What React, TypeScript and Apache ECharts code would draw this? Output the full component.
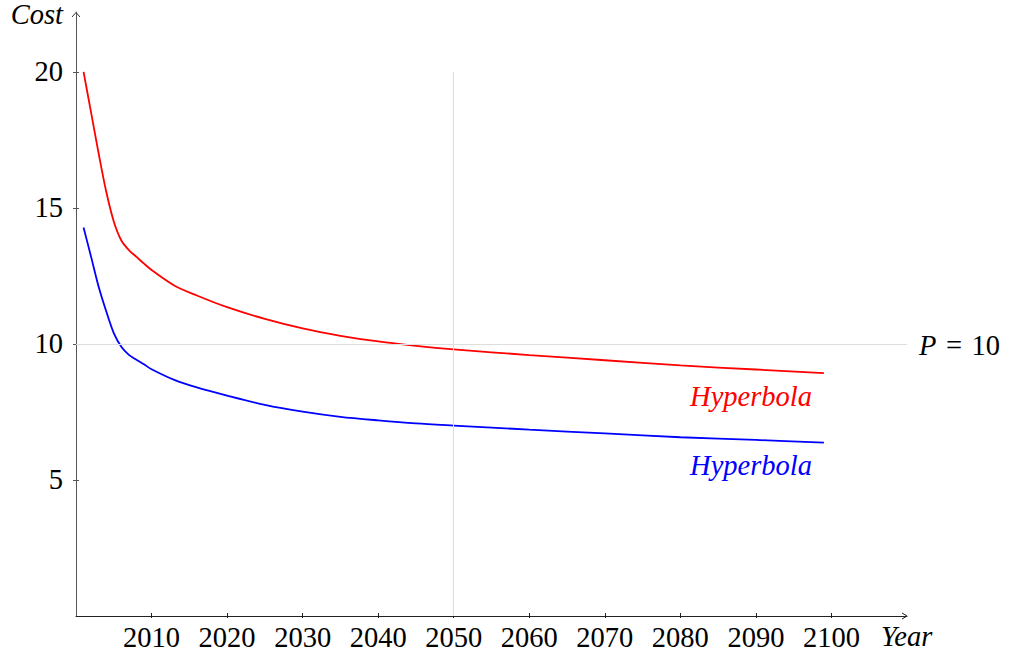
import React, { useEffect, useRef } from "react";
import * as echarts from "echarts";

const years = [2001, 2002, 2003, 2004, 2005, 2006, 2007, 2008, 2009, 2010, 2013, 2016, 2020, 2025, 2030, 2035, 2040, 2045, 2050, 2060, 2070, 2080, 2090, 2099];
const redCost = [20.0, 18.5, 17.0, 15.6, 14.5, 13.8, 13.45, 13.2, 12.95, 12.72, 12.15, 11.78, 11.35, 10.92, 10.57, 10.3, 10.09, 9.93, 9.8, 9.59, 9.4, 9.21, 9.06, 8.93];
const blueCost = [14.28, 13.2, 12.1, 11.2, 10.4, 9.9, 9.6, 9.42, 9.25, 9.07, 8.68, 8.4, 8.1, 7.76, 7.51, 7.32, 7.19, 7.08, 7.0, 6.85, 6.71, 6.57, 6.47, 6.37];
const xTicks = [2010, 2020, 2030, 2040, 2050, 2060, 2070, 2080, 2090, 2100];
const yTicks = [5, 10, 15, 20];
const priceLevel = 10;
const markYear = 2050;

const FONT = "Liberation Serif";
const FS = 28.5;

export default function App() {
  const ref = useRef<HTMLDivElement>(null);
  useEffect(() => {
    if (!ref.current) return;
    const chart = echarts.init(ref.current, null, { renderer: "svg" });
    const plain = (v: number) => String(v);
    const baseX = {
      type: "value",
      min: 2000,
      max: 2110,
      interval: 10,
      splitLine: { show: false },
    };
    const baseY = {
      type: "value",
      min: 0,
      max: 22.2,
      interval: 5,
      splitLine: { show: false },
    };
    chart.setOption({
      animation: false,
      textStyle: { fontFamily: FONT },
      grid: { left: 76, right: 106, top: 12, bottom: 41, containLabel: false },
      xAxis: [
        {
          ...baseX,
          axisLine: { show: true, onZero: false, lineStyle: { color: "#222", width: 1 } },
          axisTick: { show: true, inside: false, length: 2, customValues: xTicks, lineStyle: { color: "#222" } },
          axisLabel: { show: true, customValues: xTicks, formatter: plain, fontSize: FS, color: "#000", margin: 7, fontFamily: FONT },
        },
        {
          ...baseX,
          position: "bottom",
          axisLine: { show: false },
          axisTick: { show: true, inside: true, length: 3, customValues: xTicks, lineStyle: { color: "#222" } },
          axisLabel: { show: false },
        },
      ],
      yAxis: [
        {
          ...baseY,
          axisLine: { show: true, onZero: false, lineStyle: { color: "#555", width: 1 } },
          axisTick: { show: true, inside: false, length: 3, customValues: yTicks, lineStyle: { color: "#555" } },
          axisLabel: { show: true, customValues: yTicks, formatter: plain, fontSize: FS, color: "#000", margin: 13, fontFamily: FONT },
        },
        {
          ...baseY,
          position: "left",
          axisLine: { show: false },
          axisTick: { show: true, inside: true, length: 3, customValues: yTicks, lineStyle: { color: "#555" } },
          axisLabel: { show: false },
        },
      ],
      series: [
        {
          type: "line",
          data: [],
          silent: true,
          z: 1,
          markLine: {
            silent: true,
            symbol: "none",
            animation: false,
            label: { show: false },
            lineStyle: { color: "#dedede", width: 1, type: "solid" },
            data: [
              { yAxis: priceLevel },
              [{ coord: [markYear, 0] }, { coord: [markYear, 20] }],
            ],
          },
        },
        {
          type: "line",
          data: years.map((y, i) => [y, redCost[i]]),
          showSymbol: false,
          smooth: 0.3,
          lineStyle: { color: "#ff0000", width: 1.8 },
          itemStyle: { color: "#ff0000" },
          z: 3,
        },
        {
          type: "line",
          data: years.map((y, i) => [y, blueCost[i]]),
          showSymbol: false,
          smooth: 0.3,
          lineStyle: { color: "#0000ff", width: 1.8 },
          itemStyle: { color: "#0000ff" },
          z: 3,
        },
      ],
      graphic: [
        {
          type: "polyline",
          shape: { points: [[72, 17], [76, 12.5], [80, 17]] },
          style: { stroke: "#333", lineWidth: 1, fill: "none" },
        },
        {
          type: "polyline",
          shape: { points: [[902, 613], [907, 616], [902, 619]] },
          style: { stroke: "#222", lineWidth: 1, fill: "none" },
        },
        {
          type: "text",
          x: 63,
          y: 14,
          style: { text: "Cost", fontFamily: FONT, fontStyle: "italic", fontSize: FS, fill: "#000", align: "right", verticalAlign: "middle" },
        },
        {
          type: "text",
          x: 881,
          y: 636,
          style: { text: "Year", fontFamily: FONT, fontStyle: "italic", fontSize: FS, fill: "#000", align: "left", verticalAlign: "middle" },
        },
        {
          type: "text",
          x: 919,
          y: 345,
          style: {
            text: "{i|P}\u2004=\u200410",
            fontFamily: FONT,
            fontSize: FS,
            fill: "#000",
            align: "left",
            verticalAlign: "middle",
            rich: { i: { fontStyle: "italic", fontFamily: FONT, fontSize: FS, fill: "#000" } },
          },
        },
        {
          type: "text",
          x: 812,
          y: 396,
          style: { text: "Hyperbola", fontFamily: FONT, fontStyle: "italic", fontSize: FS, fill: "#ff0000", align: "right", verticalAlign: "middle" },
        },
        {
          type: "text",
          x: 812,
          y: 465,
          style: { text: "Hyperbola", fontFamily: FONT, fontStyle: "italic", fontSize: FS, fill: "#0000ff", align: "right", verticalAlign: "middle" },
        },
      ],
    });
    return () => chart.dispose();
  }, []);
  return (
    <div
      ref={ref}
      style={{ position: "fixed", left: 0, top: 0, width: 1013, height: 657, background: "#fff" }}
    />
  );
}
